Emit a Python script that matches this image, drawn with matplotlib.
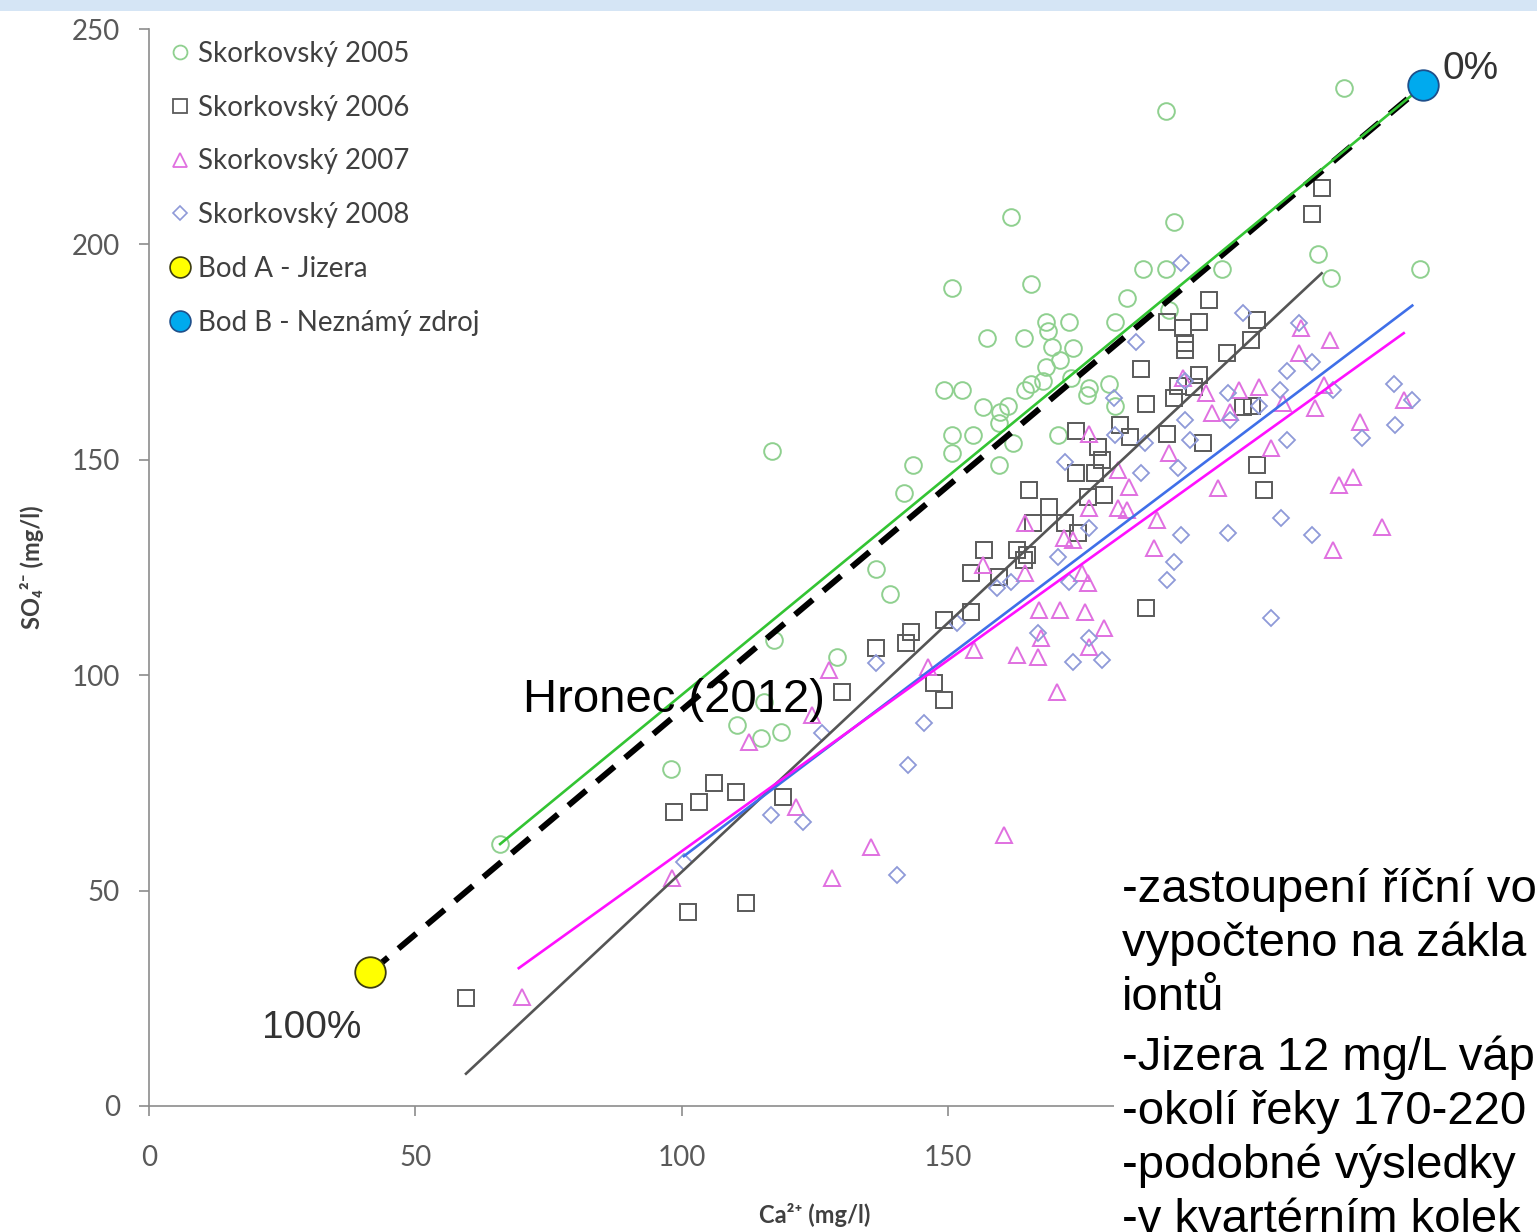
import numpy as np
import matplotlib
matplotlib.use('Agg')
from matplotlib import pyplot as plt
from matplotlib.lines import Line2D
from matplotlib.patches import Rectangle

plt.rcParams['font.family'] = ['Lato', 'DejaVu Sans']

# Skorkovsky 2005 (circles)
ca_2005 = [224.2, 190.8, 161.7, 192.3, 186.5, 190.8, 201.3, 219.5, 221.8, 238.5, 150.8, 165.5, 183.5, 168.3,
           172.6, 157.2, 164.2, 181.4, 168.7, 169.4, 173.5, 170.9, 168.3, 191.4, 149.3, 152.5, 165.5, 167.7,
           173.0, 180.1, 176.5, 156.5, 161.2, 164.4, 150.7, 154.6, 159.5, 162.1, 159.8, 170.7, 150.7, 143.3,
           159.5, 141.7, 176.0, 181.4, 116.9, 136.4, 139.0, 117.3, 129.1, 115.4, 110.3, 114.8, 118.6, 97.9, 65.9]
so4_2005 = [236.2, 230.9, 206.3, 205.1, 194.2, 194.2, 194.2, 197.7, 192.1, 194.2, 189.8, 190.7, 187.5, 181.9,
            181.9, 178.2, 178.2, 181.9, 180.0, 176.1, 175.9, 173.1, 171.5, 184.7, 166.1, 166.1, 167.7, 168.4,
            169.1, 167.7, 166.6, 162.2, 162.6, 166.1, 155.7, 155.7, 158.5, 153.8, 161.0, 155.7, 151.5, 148.7,
            148.7, 142.2, 165.0, 162.6, 152.0, 124.6, 118.8, 108.1, 104.2, 93.7, 88.4, 85.4, 86.8, 78.2, 60.8]

# Skorkovsky 2006 (squares)
ca_2006 = [220.1, 218.2, 198.9, 191.0, 197.0, 194.0, 207.9, 206.8, 194.4, 194.4, 202.3, 186.1, 197.0, 193.1,
           196.2, 192.3, 187.1, 205.3, 207.1, 182.2, 173.9, 184.1, 191.0, 197.9, 178.2, 178.8, 173.9, 177.5,
           207.9, 165.1, 179.2, 176.2, 209.2, 169.0, 166.0, 172.0, 174.3, 156.8, 163.0, 164.7, 164.2, 154.2,
           159.5, 154.2, 149.3, 143.0, 142.0, 187.1, 149.3, 147.3, 136.4, 130.0, 98.5, 103.2, 106.0, 110.1,
           119.0, 101.1, 112.0, 59.5]
so4_2006 = [213.0, 207.0, 187.0, 181.9, 181.9, 180.5, 182.4, 177.7, 177.0, 175.4, 174.7, 171.0, 169.6, 167.1,
            166.8, 164.3, 162.9, 162.2, 162.6, 158.0, 156.8, 155.2, 155.9, 153.8, 152.9, 149.9, 146.9, 146.9,
            148.7, 142.9, 141.8, 141.3, 142.9, 139.0, 135.3, 135.3, 132.9, 129.0, 129.0, 127.8, 126.7, 123.7,
            122.7, 114.6, 112.8, 110.0, 107.4, 115.5, 94.2, 98.1, 106.3, 96.1, 68.2, 70.5, 74.9, 72.9,
            71.7, 45.0, 47.1, 25.1]

# Skorkovsky 2007 (triangles)
ca_2007 = [216.3, 215.8, 221.6, 208.4, 204.5, 220.6, 218.9, 212.8, 199.6, 202.8, 194.0, 198.3, 235.5, 227.2,
           210.5, 200.6, 223.3, 225.9, 231.5, 222.3, 191.4, 181.8, 183.9, 176.5, 176.5, 181.8, 183.5, 189.1,
           188.7, 164.4, 171.7, 173.4, 175.2, 176.2, 164.4, 156.5, 167.0, 170.9, 175.6, 179.2, 167.4, 163.0,
           166.8, 176.5, 146.3, 154.8, 170.4, 127.6, 124.4, 112.6, 121.4, 135.5, 128.1, 98.1, 160.4, 70.0]
so4_2007 = [180.7, 174.9, 177.7, 166.8, 166.1, 167.3, 162.0, 163.1, 160.8, 161.0, 168.9, 165.4, 163.8, 158.7,
            152.7, 143.4, 144.1, 145.9, 134.3, 129.0, 151.5, 147.6, 143.6, 156.1, 138.7, 138.7, 138.3, 136.0,
            129.5, 135.3, 131.8, 131.3, 123.7, 121.3, 123.7, 125.5, 115.1, 115.1, 114.6, 110.9, 108.6, 104.6,
            104.2, 106.5, 101.9, 105.8, 96.1, 101.2, 90.7, 84.5, 69.4, 60.1, 52.9, 52.9, 62.9, 25.3]

# Skorkovsky 2008 (diamonds)
ca_2008 = [193.6, 205.4, 215.8, 218.2, 213.5, 185.2, 233.6, 237.1, 233.8, 227.6, 222.3, 212.2, 213.5, 202.6,
           202.8, 208.4, 194.4, 194.4, 181.2, 181.4, 195.3, 186.9, 172.0, 186.1, 193.1, 176.5, 212.4, 202.6,
           193.6, 218.2, 192.3, 191.0, 210.5, 170.7, 161.7, 159.1, 172.6, 166.8, 176.5, 173.4, 178.8, 151.6,
           145.4, 142.4, 140.3, 116.7, 122.7, 100.4, 126.3, 136.4]
so4_2008 = [195.6, 184.0, 181.7, 172.6, 170.5, 177.3, 167.7, 163.8, 158.0, 155.0, 166.1, 166.1, 154.5, 165.4,
            159.2, 162.6, 168.4, 159.2, 164.3, 155.7, 154.5, 153.8, 149.4, 146.9, 148.0, 134.1, 136.4, 132.9,
            132.5, 132.5, 126.2, 122.0, 113.2, 127.4, 121.6, 120.2, 121.6, 109.7, 108.6, 103.0, 103.5, 112.1,
            88.9, 79.1, 53.6, 67.5, 65.9, 56.6, 86.5, 102.8]

# trend lines (end points)
fit_2005_x, fit_2005_y = [65.9, 237.0], [60.8, 234.6]
fit_2006_x, fit_2006_y = [59.5, 220.1], [7.5, 193.3]
fit_2007_x, fit_2007_y = [69.4, 235.5], [32.0, 179.4]
fit_2008_x, fit_2008_y = [100.4, 237.1], [58.0, 185.8]

# end members
ca_A, so4_A = 41.5, 31.0
ca_B, so4_B = 239.2, 236.9

labels = ['Skorkovský 2005', 'Skorkovský 2006', 'Skorkovský 2007', 'Skorkovský 2008',
          'Bod A - Jizera', 'Bod B - Neznámý zdroj']
note_lines = ['-zastoupení říční vo', 'vypočteno na zákla', 'iontů', '-Jizera 12 mg/L váp',
              '-okolí řeky 170-220', '-podobné výsledky', '-v kvartérním kolek']

c05, c06, c07, c08 = '#8fd08f', '#5a5a5a', '#e070e0', '#8f9ad8'

fig = plt.figure(figsize=(15.37, 12.32), dpi=100)
ax = fig.add_axes([149/1537, 126/1232, 1332/1537, 1077/1232])

ax.plot(ca_2005, so4_2005, 'o', ms=12, mfc='none', mec=c05, mew=1.4)
ax.plot(ca_2006, so4_2006, 's', ms=11.5, mfc='none', mec=c06, mew=1.4)
ax.plot(ca_2007, so4_2007, '^', ms=12, mfc='none', mec=c07, mew=1.4)
ax.plot(ca_2008, so4_2008, 'D', ms=8.5, mfc='none', mec=c08, mew=1.3)

ax.plot([ca_A, ca_B], [so4_A, so4_B], color='black', lw=4.3, ls=(0, (3.9, 2.3)))
ax.plot(fit_2005_x, fit_2005_y, color='#33c433', lw=1.9)
ax.plot(fit_2006_x, fit_2006_y, color='#555555', lw=1.9)
ax.plot(fit_2008_x, fit_2008_y, color='#3f6fe8', lw=1.9)
ax.plot(fit_2007_x, fit_2007_y, color='#ff10ff', lw=1.9)

ax.plot(ca_A, so4_A, 'o', ms=22, mfc='#ffff00', mec='#3d3d10', mew=1.3, clip_on=False, zorder=4)
ax.plot(ca_B, so4_B, 'o', ms=22, mfc='#00aaee', mec='#1f4f8a', mew=1.3, clip_on=False, zorder=4)

ax.text(70.2, 94.2, 'Hronec (2012)', family='Liberation Sans', fontsize=34, color='black',
        ha='left', va='center', zorder=6)
ax.text(21.2, 18.1, '100%', family='Liberation Sans', fontsize=28, color='#333333', ha='left', va='center')
ax.text(242.8, 240.8, '0%', family='Liberation Sans', fontsize=28, color='#333333', ha='left', va='center',
        clip_on=False)

ax.set_xlim(0, 250)
ax.set_ylim(0, 250)
ax.set_xticks(np.arange(0, 151, 50))
ax.set_yticks(np.arange(0, 251, 50))
for s in ['top', 'right']:
    ax.spines[s].set_visible(False)
for s in ['left', 'bottom']:
    ax.spines[s].set_color('#8c8c8c')
    ax.spines[s].set_linewidth(1.2)
ax.tick_params(axis='both', length=7, width=1.2, color='#8c8c8c', labelcolor='#595959', labelsize=20)
ax.tick_params(axis='x', pad=21)
ax.tick_params(axis='y', pad=14)

ax.set_xlabel('Ca²⁺ (mg/l)', fontsize=17, fontweight='bold', color='#404040',
              family=['Lato', 'DejaVu Sans'])
ax.set_ylabel('SO₄²⁻ (mg/l)', fontsize=17, fontweight='bold', color='#404040',
              family=['Lato', 'DejaVu Sans'])
ax.xaxis.set_label_coords(0.5, -0.09)
ax.yaxis.set_label_coords(-0.079, 0.5)

handles = [Line2D([], [], ls='none', marker='o', ms=10, mfc='none', mec=c05, mew=1.3),
           Line2D([], [], ls='none', marker='s', ms=10, mfc='none', mec=c06, mew=1.3),
           Line2D([], [], ls='none', marker='^', ms=10, mfc='none', mec=c07, mew=1.3),
           Line2D([], [], ls='none', marker='D', ms=7, mfc='none', mec=c08, mew=1.2),
           Line2D([], [], ls='none', marker='o', ms=15, mfc='#ffff00', mec='#3d3d10', mew=1.2),
           Line2D([], [], ls='none', marker='o', ms=15, mfc='#00aaee', mec='#1f4f8a', mew=1.2)]
leg = ax.legend(handles, labels, loc='upper left', bbox_to_anchor=(0.0128, 0.989), frameon=False,
                borderpad=0, borderaxespad=0, handlelength=1.0, handletextpad=0.15,
                labelspacing=1.0, fontsize=20)
for t in leg.get_texts():
    t.set_color('#404040')

# slide background strip and the text box covering the right part
fig.add_artist(Rectangle((0, 1 - 11/1232), 1, 11/1232, transform=fig.transFigure,
                         facecolor='#d5e5f5', edgecolor='none', zorder=5))
fig.add_artist(Rectangle((1114/1537, 0), 1, 377/1232, transform=fig.transFigure,
                         facecolor='white', edgecolor='none', zorder=5))
line_y = [885, 939, 993, 1053, 1107, 1161, 1215]
for txt, yy in zip(note_lines, line_y):
    fig.text(1122/1537, 1 - yy/1232, txt, family='Liberation Sans', fontsize=34, color='black',
             ha='left', va='center_baseline', zorder=6)

fig.savefig('out.png', dpi=100)
